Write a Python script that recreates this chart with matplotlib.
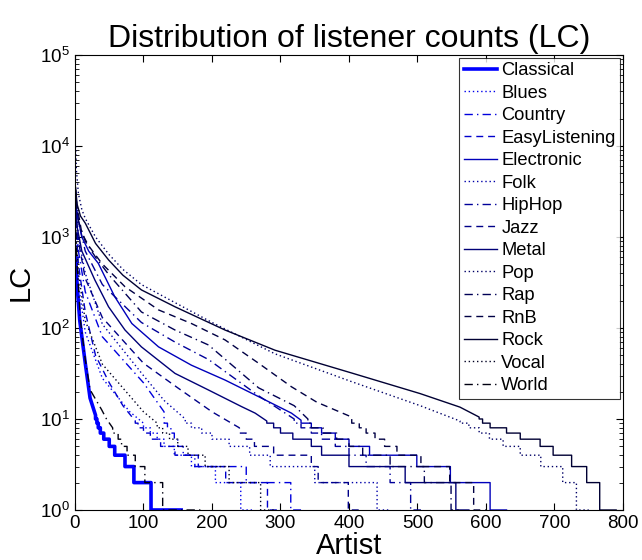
import numpy as np
import matplotlib
matplotlib.use("Agg")
import matplotlib.pyplot as plt

plt.rcParams['font.family'] = ['Liberation Sans', 'DejaVu Sans']
plt.rcParams['mathtext.fontset'] = 'custom'
plt.rcParams['mathtext.rm'] = 'Liberation Sans'
plt.rcParams['mathtext.it'] = 'Liberation Sans'

genres = ["Classical", "Blues", "Country", "EasyListening", "Electronic", "Folk", "HipHop",
          "Jazz", "Metal", "Pop", "Rap", "RnB", "Rock", "Vocal", "World"]

# smooth upper part of each curve: (rank, listener count)
head_rank = {
    "Classical": [1, 3, 7, 15, 22, 30],
    "Blues": [1, 5, 15, 40, 80, 100],
    "Country": [1, 5, 15, 40, 100, 130],
    "EasyListening": [1, 5, 15, 30, 50, 70, 88],
    "Electronic": [1, 3, 10, 20, 34, 58, 83, 122, 170, 219, 268, 316, 330],
    "Folk": [1, 5, 15, 40, 100, 130, 161],
    "HipHop": [1, 5, 15, 40, 97, 146, 195, 268, 320],
    "Jazz": [1, 5, 15, 40, 100, 150, 200, 240],
    "Metal": [1, 3, 10, 29, 49, 73, 97, 146, 195, 243, 263, 280],
    "Pop": [1, 2, 5, 10, 15, 30, 49, 70, 97, 146, 200, 292, 404, 504, 562],
    "Rap": [1, 5, 15, 30, 50, 97, 146, 195, 268, 320, 340],
    "RnB": [1, 3, 10, 20, 39, 73, 122, 170, 219, 268, 316, 353, 404],
    "Rock": [1, 3, 8, 15, 30, 49, 70, 97, 146, 219, 292, 404, 504, 562, 590],
    "Vocal": [1, 5, 15, 40, 100, 120],
    "World": [1, 3, 8, 15, 22, 39, 46, 55],
}
head_lc = {
    "Classical": [600, 300, 120, 41, 17, 11],
    "Blues": [900, 300, 90, 28, 12, 9],
    "Country": [1800, 700, 250, 80, 25, 12],
    "EasyListening": [1500, 500, 150, 50, 25, 14, 9.5],
    "Electronic": [2500, 1800, 1000, 700, 514, 221, 112, 62, 39, 26.8, 17.6, 11.6, 9.7],
    "Folk": [2500, 1000, 400, 110, 30, 16, 10],
    "HipHop": [3000, 1500, 700, 300, 115, 70, 45, 18, 10],
    "Jazz": [2000, 900, 350, 130, 41, 22, 12, 8],
    "Metal": [2000, 1300, 700, 337, 171, 95, 62, 31.7, 20.8, 13.7, 11.6, 9.5],
    "Pop": [10000, 5500, 3000, 2000, 1600, 1000, 650, 440, 300, 190, 115, 52, 25.7, 14, 9.5],
    "Rap": [2500, 1500, 900, 600, 380, 150, 95, 65, 22, 14, 10],
    "RnB": [3300, 2200, 1100, 800, 514, 284, 158, 112, 74, 41, 22.6, 15.3, 10.5],
    "Rock": [3500, 2300, 1700, 1420, 850, 560, 380, 262, 171, 95, 57, 32, 19, 13.5, 10.5],
    "Vocal": [1200, 400, 120, 40, 12, 9],
    "World": [1200, 500, 120, 45, 21, 12.6, 10, 8],
}

# integer steps in the tail: level and last rank at that level
tail_level = {
    "Classical": [10, 9, 8, 7, 6, 5, 4, 3, 2],
    "Blues": [8, 7, 6, 5, 4, 3, 2],
    "Country": [9, 8, 7, 6, 5, 4, 3, 2],
    "EasyListening": [9, 8, 7, 6, 5, 4, 3, 2],
    "Electronic": [9, 8, 7, 6, 5, 4, 3, 2],
    "Folk": [9, 8, 7, 6, 5, 4, 3, 2],
    "HipHop": [9, 8, 7, 6, 5, 4, 3, 2],
    "Jazz": [7, 6, 5, 4, 3, 2],
    "Metal": [9, 8, 7, 6, 5, 4, 3, 2],
    "Pop": [9, 8, 7, 6, 5, 4, 3, 2],
    "Rap": [9, 8, 7, 6, 5, 4, 3, 2],
    "RnB": [9, 8, 7, 6, 5, 4, 3, 2],
    "Rock": [10, 9, 8, 7, 6, 5, 4, 3, 2],
    "Vocal": [8, 7, 6, 5, 4, 3, 2],
    "World": [7, 6, 5, 4, 3, 2],
}
tail_end = {
    "Classical": [32, 34, 37, 42, 50, 58, 73, 86, 111],
    "Blues": [110, 120, 130, 145, 170, 205, 242],
    "Country": [135, 140, 145, 150, 158, 175, 250, 315],
    "EasyListening": [92, 100, 110, 125, 146, 180, 220, 281],
    "Electronic": [345, 360, 380, 400, 430, 499, 548, 606],
    "Folk": [170, 185, 200, 225, 255, 285, 350, 441],
    "HipHop": [330, 345, 360, 380, 400, 425, 460, 490],
    "Jazz": [250, 262, 290, 345, 355, 399],
    "Metal": [290, 300, 318, 345, 360, 400, 482, 556],
    "Pop": [575, 590, 605, 625, 650, 680, 712, 732],
    "Rap": [345, 362, 382, 400, 420, 460, 510, 549],
    "RnB": [415, 425, 438, 452, 470, 505, 547, 582],
    "Rock": [595, 606, 630, 650, 679, 698, 725, 747, 766],
    "Vocal": [128, 138, 150, 165, 190, 225, 271],
    "World": [63, 68, 76, 88, 102, 128, 170],
}
n_artists = {
    "Classical": 155, "Blues": 260, "Country": 330, "EasyListening": 300, "Electronic": 630,
    "Folk": 460, "HipHop": 505, "Jazz": 420, "Metal": 575, "Pop": 750, "Rap": 565,
    "RnB": 600, "Rock": 790, "Vocal": 290, "World": 185,
}

styles = ['-', (0, (1, 2)), (0, (6, 3, 1, 3)), (0, (5, 3.5))]

fig = plt.figure(figsize=(6.42, 5.6), dpi=100)
ax = fig.add_axes([0.1168, 0.0893, 0.8536, 0.8125])

for i, g in enumerate(genres):
    xs = list(head_rank[g])
    ys = list(head_lc[g])
    prev = xs[-1]
    for lev, end in zip(tail_level[g], tail_end[g]):
        xs += [prev, end]
        ys += [lev, lev]
        prev = end
    xs += [prev, n_artists[g]]
    ys += [1, 1]
    col = (0, 0, 1 - i / 15.0)
    lw = 2.6 if i == 0 else 1.0
    ax.semilogy(xs, ys, color=col, linestyle=styles[i % 4], linewidth=lw, label=g)

ax.set_xlim(0, 800)
ax.set_ylim(1, 1e5)
ax.set_xticks(np.arange(0, 801, 100))
ax.tick_params(which='both', direction='in', top=True, right=True, labelsize=13.5)
ax.tick_params(which='major', length=5)
ax.tick_params(which='minor', length=3)
for s in ax.spines.values():
    s.set_linewidth(0.8)

ax.set_title("Distribution of listener counts (LC)", fontsize=23, pad=6)
ax.set_xlabel("Artist", fontsize=21, labelpad=0)
ax.set_ylabel("LC", fontsize=21, labelpad=4)

leg = ax.legend(loc='upper right', fontsize=13.2, frameon=True, fancybox=False,
                edgecolor='black', handlelength=1.8, handletextpad=0.25,
                labelspacing=0.3, borderpad=0.25, borderaxespad=0.15)
leg.get_frame().set_linewidth(0.8)

fig.savefig("out.png", dpi=100)
